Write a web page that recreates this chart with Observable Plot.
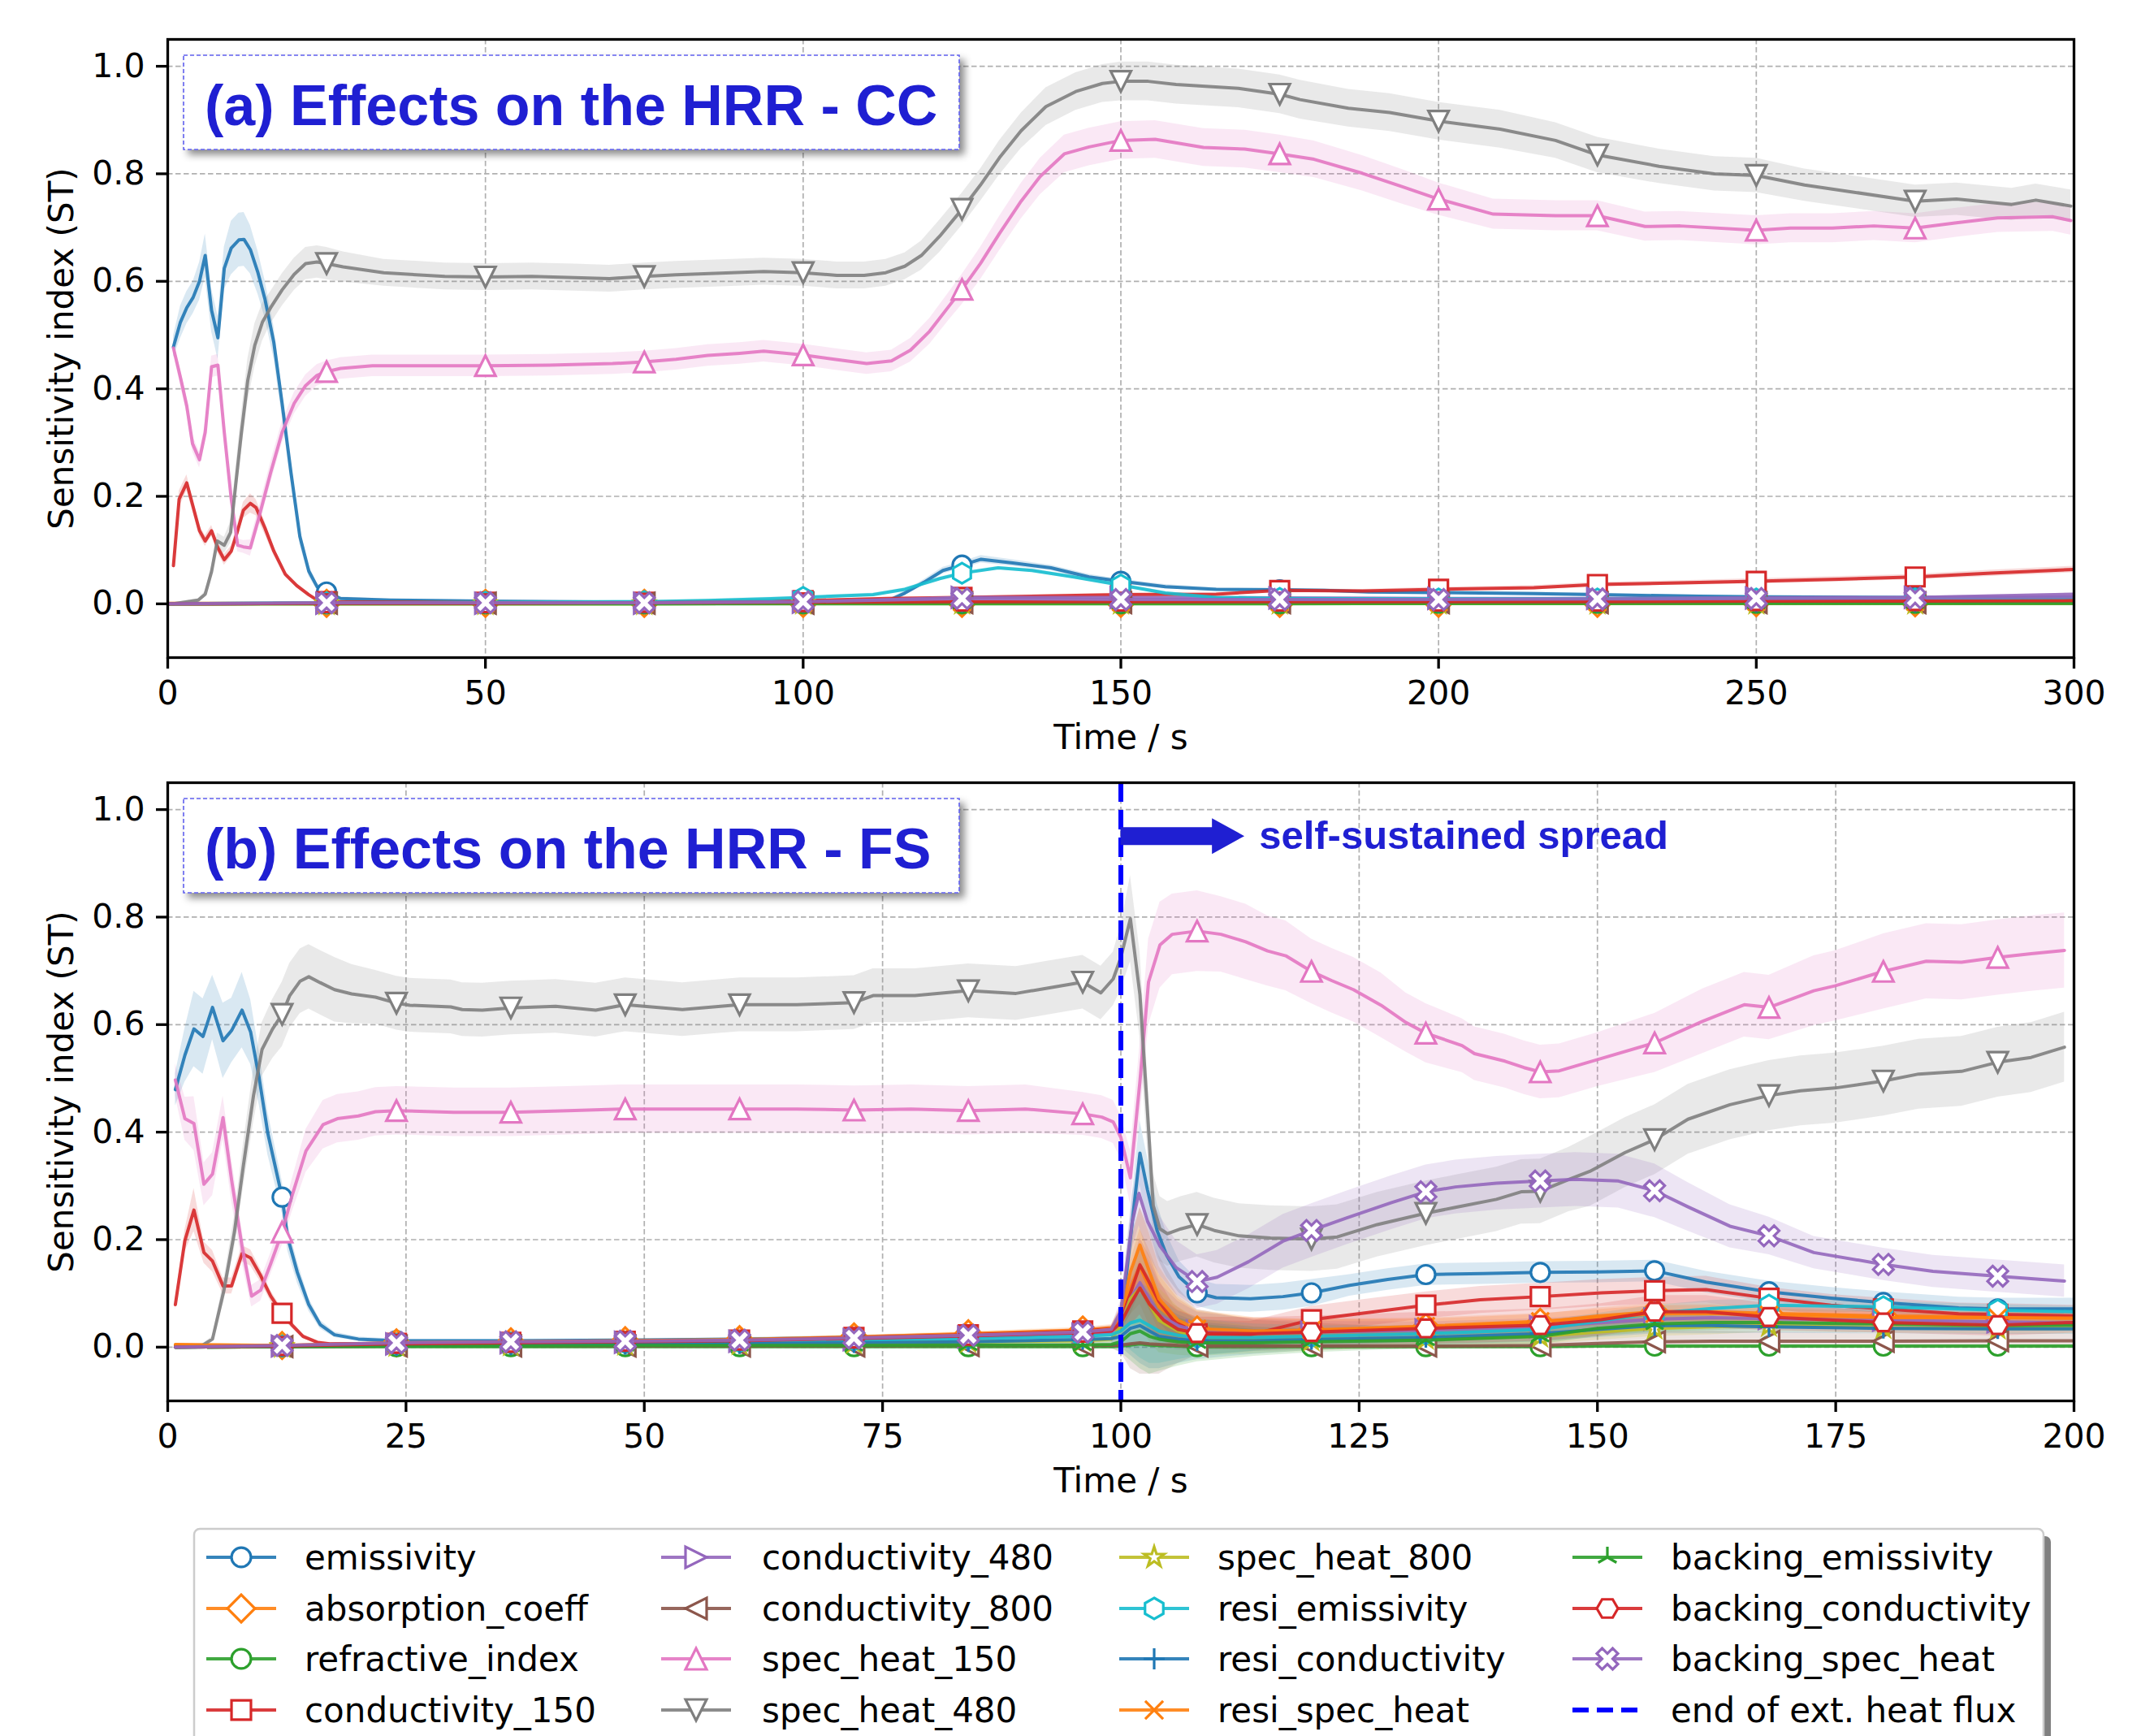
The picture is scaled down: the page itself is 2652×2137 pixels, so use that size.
<!DOCTYPE html>
<html><head><meta charset="utf-8">
<script src="https://cdn.jsdelivr.net/npm/d3@7"></script>
<script src="https://cdn.jsdelivr.net/npm/@observablehq/plot@0.6"></script>
<style>
html,body{margin:0;padding:0;background:#fff;}
body{width:2652px;height:2137px;overflow:hidden;position:relative;font-family:"DejaVu Sans",sans-serif;}
.panel{position:absolute;left:0;}
svg{overflow:visible;}
</style></head><body>
<div id="pb" class="panel" style="top:915px"></div>
<div id="pa" class="panel" style="top:0px"></div>
<script>
// ---------------- DATA ----------------
// Panel (a): CC, time 0..300 s
const TA = [0,25,50,75,100,125,150,175,200,225,250,275,300];
const MARK_A = [25,50,75,100,125,150,175,200,225,250,275];
// [t, value, halfwidth]
const A_emissivity = [[0.9,0.478,0.02],[2,0.524,0.03],[3,0.551,0.03],[4,0.570,0.03],[5,0.60,0.035],[5.9,0.648,0.04],[6.9,0.546,0.04],[7.9,0.495,0.04],[8.9,0.624,0.04],[10,0.662,0.05],[11.2,0.677,0.05],[12,0.678,0.05],[13,0.659,0.045],[14.2,0.616,0.04],[15.3,0.567,0.035],[16.7,0.486,0.03],[18,0.373,0.025],[19.4,0.244,0.02],[20.8,0.125,0.015],[22.2,0.061,0.01],[23.5,0.032,0.006],[25,0.022,0.004],[27.2,0.010,0.003],[35,0.007,0.002],[50,0.005,0.002],[75,0.003,0.002],[100,0.004,0.002],[110,0.005,0.002],[113.6,0.007,0.003],[116,0.02,0.004],[119,0.040,0.005],[122,0.062,0.006],[125,0.072,0.006],[128,0.083,0.007],[133,0.076,0.006],[139,0.067,0.005],[145,0.050,0.005],[150,0.042,0.004],[157,0.032,0.004],[165,0.027,0.003],[175,0.026,0.003],[182,0.025,0.003],[189,0.022,0.003],[200,0.021,0.003],[215,0.019,0.003],[225,0.017,0.003],[241,0.014,0.003],[250,0.013,0.003],[275,0.012,0.003],[300,0.012,0.003]];
const A_conductivity_150 = [[0.9,0.071,0.01],[1.8,0.195,0.015],[3,0.225,0.015],[3.9,0.185,0.012],[5,0.136,0.01],[5.9,0.117,0.01],[6.9,0.136,0.01],[7.9,0.104,0.01],[8.9,0.082,0.01],[10,0.098,0.01],[11,0.136,0.012],[11.9,0.174,0.015],[13,0.187,0.018],[13.9,0.179,0.015],[15.3,0.141,0.012],[16.7,0.098,0.008],[18.5,0.055,0.005],[20.3,0.034,0.004],[22.2,0.017,0.003],[23.5,0.007,0.002],[25,0.004,0.002],[50,0.003,0.002],[75,0.003,0.002],[100,0.006,0.002],[113,0.010,0.002],[125,0.012,0.003],[150,0.017,0.003],[165,0.018,0.003],[175,0.025,0.003],[188,0.024,0.003],[200,0.027,0.004],[215,0.030,0.004],[225,0.036,0.004],[238,0.039,0.004],[250,0.042,0.005],[263,0.046,0.005],[275,0.050,0.005],[287,0.057,0.006],[300,0.064,0.006]];
const A_spec_heat_150 = [[0.9,0.476,0.01],[2.1,0.416,0.015],[3,0.368,0.015],[3.9,0.298,0.015],[5,0.268,0.015],[5.9,0.319,0.015],[6.9,0.441,0.02],[7.9,0.444,0.02],[8.9,0.319,0.015],[10,0.195,0.015],[11,0.109,0.012],[11.9,0.106,0.012],[13,0.104,0.015],[14.4,0.163,0.018],[16.2,0.244,0.02],[18,0.319,0.02],[19.9,0.373,0.02],[21.7,0.406,0.02],[23.5,0.425,0.02],[25,0.432,0.02],[27.2,0.438,0.02],[32.2,0.443,0.02],[39,0.443,0.02],[50,0.443,0.02],[60,0.444,0.02],[70,0.447,0.02],[75,0.450,0.02],[80,0.455,0.02],[85,0.462,0.02],[90,0.466,0.02],[93.8,0.470,0.02],[100,0.463,0.02],[104.9,0.455,0.02],[110,0.447,0.02],[113.9,0.452,0.02],[116.9,0.472,0.022],[119.9,0.507,0.024],[122.9,0.553,0.026],[125,0.585,0.028],[127.9,0.633,0.03],[130.9,0.689,0.032],[134.3,0.749,0.033],[137.3,0.795,0.034],[141.1,0.837,0.035],[145,0.850,0.035],[150,0.862,0.035],[155.4,0.864,0.035],[163,0.849,0.035],[169.5,0.846,0.035],[175,0.837,0.035],[180.4,0.827,0.034],[188,0.801,0.033],[194.5,0.775,0.032],[200,0.753,0.03],[208.6,0.725,0.028],[218.4,0.722,0.028],[225,0.722,0.028],[232.5,0.702,0.027],[238,0.703,0.027],[250,0.695,0.027],[255.4,0.699,0.027],[262,0.699,0.027],[268.5,0.703,0.027],[275,0.699,0.027],[281.5,0.709,0.027],[288,0.718,0.027],[296.7,0.720,0.027],[299.5,0.713,0.027]];
const A_spec_heat_480 = [[0.9,0.0,0.002],[4.8,0.007,0.003],[5.9,0.018,0.005],[6.9,0.06,0.01],[7.8,0.117,0.015],[8.9,0.109,0.015],[9.9,0.133,0.02],[10.7,0.222,0.03],[11.6,0.319,0.035],[12.6,0.416,0.04],[13.7,0.481,0.04],[14.9,0.524,0.035],[16.2,0.551,0.03],[18,0.584,0.03],[19.9,0.613,0.03],[21.7,0.633,0.03],[23.5,0.636,0.03],[25,0.633,0.03],[27.6,0.627,0.028],[34,0.616,0.025],[43.6,0.609,0.025],[50,0.608,0.025],[57.3,0.609,0.025],[64,0.607,0.025],[69.5,0.605,0.025],[75,0.609,0.025],[80,0.612,0.025],[87,0.615,0.025],[93.8,0.618,0.025],[100,0.616,0.025],[105.3,0.611,0.025],[109.6,0.611,0.025],[113,0.616,0.025],[116,0.628,0.025],[118.6,0.648,0.027],[121.5,0.684,0.03],[125,0.734,0.03],[127.9,0.779,0.03],[130.9,0.830,0.032],[134.3,0.880,0.033],[138.2,0.925,0.035],[142.9,0.953,0.035],[147.1,0.968,0.035],[150,0.972,0.036],[154.3,0.972,0.036],[158.7,0.966,0.036],[168.5,0.959,0.036],[175,0.948,0.036],[178.2,0.938,0.036],[185.8,0.922,0.035],[192.3,0.914,0.035],[200,0.898,0.035],[209.7,0.883,0.035],[218.4,0.862,0.033],[225,0.835,0.033],[234.7,0.814,0.032],[243.4,0.800,0.032],[250,0.797,0.032],[257.6,0.779,0.03],[265.2,0.766,0.03],[275,0.749,0.03],[281.5,0.753,0.03],[290.2,0.743,0.03],[294,0.751,0.03],[299.5,0.740,0.03]];
const A_resi_emissivity = [[0,0],[25,0.002],[50,0.003],[75,0.004],[85,0.006],[95,0.0096],[100,0.012],[111,0.017],[116,0.027],[121.5,0.047],[125,0.057],[130.7,0.067],[136,0.062],[142.6,0.05],[150,0.035],[157,0.02],[165,0.012],[175,0.01],[200,0.009],[225,0.009],[250,0.009],[275,0.009],[300,0.01]];
// values at TA
const A_absorption_coeff   = [0.001,0.001,0.001,0.001,0.001,0.001,0.001,0.001,0.001,0.001,0.002,0.002,0.003];
const A_refractive_index   = [0,0,0,0,0,0,0,0,0.001,0.001,0.001,0.001,0.001];
const A_conductivity_480   = [0,0.001,0.001,0.001,0.003,0.012,0.012,0.011,0.010,0.010,0.011,0.012,0.018];
const A_conductivity_800   = [0,0.001,0.001,0.001,0.001,0.002,0.002,0.002,0.002,0.002,0.002,0.002,0.003];
const A_spec_heat_800      = [0,0,0,0,0.001,0.001,0.001,0.001,0.001,0.001,0.001,0.001,0.001];
const A_resi_conductivity  = [0,0.001,0.001,0.001,0.002,0.003,0.003,0.003,0.003,0.003,0.003,0.003,0.004];
const A_resi_spec_heat     = [0,0.001,0.001,0.001,0.002,0.003,0.003,0.003,0.003,0.003,0.004,0.004,0.005];
const A_backing_emissivity = [0,0,0,0,0.001,0.001,0.001,0.001,0.001,0.001,0.001,0.001,0.001];
const A_backing_conductivity = [0,0.001,0.001,0.002,0.003,0.004,0.004,0.004,0.004,0.004,0.005,0.005,0.006];
const A_backing_spec_heat  = [0,0.002,0.002,0.002,0.004,0.010,0.008,0.008,0.008,0.009,0.010,0.011,0.013];

// Panel (b): FS, time 0..200 s
const MARK_B = [12,24,36,48,60,72,84,96,108,120,132,144,156,168,180,192];
const TB = [0.8,12,24,36,48,60,72,84,96,99,100,101,102,103,104,106,108,114,120,132,144,150,156,162,168,180,192,200];
const B_emissivity = [[0.8,0.479,0.03],[1.8,0.543,0.05],[2.75,0.592,0.07],[3.7,0.578,0.07],[4.7,0.632,0.06],[5.8,0.570,0.07],[6.7,0.589,0.06],[7.8,0.627,0.07],[8.7,0.586,0.06],[9.6,0.500,0.05],[10.5,0.398,0.04],[12,0.279,0.03],[12.6,0.203,0.025],[13.6,0.139,0.02],[14.8,0.079,0.012],[16,0.042,0.008],[17.5,0.023,0.005],[20,0.015,0.004],[24,0.012,0.003],[36,0.012,0.003],[48,0.013,0.003],[60,0.015,0.003],[72,0.018,0.004],[84,0.022,0.004],[96,0.028,0.005],[99,0.032,0.006],[100,0.043,0.01],[101.2,0.234,0.05],[102,0.361,0.06],[102.8,0.292,0.06],[103.8,0.217,0.05],[104.8,0.171,0.04],[106.1,0.131,0.03],[108,0.101,0.025],[110,0.092,0.025],[113.6,0.090,0.025],[117,0.094,0.025],[120,0.101,0.025],[124,0.115,0.02],[128,0.126,0.02],[132,0.135,0.02],[138,0.137,0.02],[144,0.139,0.02],[150,0.140,0.02],[156,0.142,0.02],[161.4,0.121,0.02],[168,0.103,0.02],[174.5,0.091,0.02],[180,0.083,0.02],[187.9,0.073,0.02],[192,0.071,0.02],[200,0.071,0.02]];
const B_conductivity_150 = [[0.8,0.079,0.01],[1.8,0.198,0.02],[2.75,0.255,0.04],[3.8,0.176,0.02],[4.7,0.160,0.02],[5.8,0.114,0.015],[6.7,0.114,0.015],[7.8,0.174,0.015],[8.7,0.166,0.015],[9.75,0.133,0.012],[10.8,0.095,0.01],[12,0.063,0.008],[13,0.042,0.006],[14.2,0.020,0.004],[15.7,0.009,0.003],[17,0.006,0.002],[24,0.007,0.002],[36,0.009,0.002],[48,0.011,0.002],[60,0.013,0.003],[72,0.018,0.003],[84,0.023,0.004],[96,0.030,0.005],[99,0.034,0.006],[100,0.05,0.02],[101,0.10,0.04],[102,0.153,0.05],[103,0.12,0.05],[104,0.085,0.04],[105.5,0.05,0.03],[108,0.025,0.025],[113.6,0.023,0.025],[120,0.051,0.025],[126.6,0.066,0.025],[132,0.078,0.025],[137.7,0.088,0.025],[144,0.094,0.025],[150.4,0.101,0.025],[156,0.105,0.025],[161.4,0.107,0.025],[168,0.091,0.02],[174.5,0.078,0.02],[180,0.071,0.02],[187.9,0.062,0.02],[192,0.061,0.02],[200,0.058,0.02]];
const B_spec_heat_150 = [[0.8,0.497,0.03],[1.8,0.425,0.04],[2.75,0.416,0.05],[3.8,0.303,0.04],[4.7,0.322,0.04],[5.8,0.427,0.04],[6.7,0.311,0.04],[7.8,0.187,0.03],[8.8,0.095,0.02],[9.75,0.106,0.02],[10.8,0.155,0.02],[12,0.214,0.025],[13,0.279,0.03],[14.5,0.365,0.04],[16.3,0.414,0.045],[17.8,0.425,0.045],[20,0.430,0.045],[21.8,0.438,0.045],[24,0.440,0.045],[30,0.437,0.045],[36,0.437,0.045],[42,0.440,0.045],[48,0.443,0.045],[54,0.443,0.045],[60,0.443,0.045],[66,0.443,0.045],[72,0.441,0.045],[78,0.443,0.045],[84,0.440,0.045],[90,0.443,0.045],[96,0.434,0.04],[98,0.428,0.04],[99.2,0.419,0.04],[100,0.390,0.04],[101,0.315,0.05],[102,0.494,0.07],[102.9,0.679,0.08],[104.1,0.748,0.08],[105.4,0.768,0.075],[108,0.774,0.075],[110.5,0.768,0.07],[113.1,0.754,0.07],[115.4,0.737,0.065],[117.3,0.728,0.065],[120,0.699,0.06],[122.1,0.682,0.06],[124.4,0.665,0.06],[127.3,0.636,0.06],[129.9,0.604,0.055],[132,0.584,0.055],[135.8,0.561,0.05],[137.1,0.546,0.05],[140.3,0.532,0.05],[142.3,0.520,0.05],[144,0.512,0.05],[146,0.514,0.05],[150,0.535,0.05],[156,0.566,0.055],[161,0.606,0.06],[165.4,0.637,0.06],[168,0.632,0.06],[172.7,0.663,0.065],[174.9,0.672,0.065],[180,0.699,0.07],[184.5,0.718,0.07],[188.2,0.716,0.07],[192,0.725,0.07],[195.5,0.732,0.07],[199,0.738,0.07]];
const B_spec_heat_480 = [[0.8,0.0,0.002],[3.7,0.004,0.003],[4.7,0.015,0.005],[5.9,0.106,0.02],[7,0.214,0.03],[7.9,0.333,0.04],[9,0.468,0.05],[9.9,0.554,0.05],[11,0.592,0.055],[12,0.619,0.06],[12.8,0.654,0.06],[13.9,0.681,0.06],[14.8,0.689,0.06],[16,0.678,0.06],[17.5,0.665,0.06],[19.3,0.657,0.055],[21.8,0.651,0.05],[24,0.640,0.05],[25.4,0.636,0.05],[29.7,0.633,0.05],[30.9,0.628,0.05],[33,0.627,0.05],[36,0.631,0.05],[40.7,0.634,0.05],[44.9,0.627,0.05],[48,0.637,0.05],[54,0.628,0.05],[60,0.637,0.05],[66,0.637,0.05],[72,0.641,0.05],[74,0.654,0.05],[78.4,0.654,0.05],[84,0.663,0.05],[89,0.658,0.05],[92,0.667,0.05],[96,0.679,0.05],[97.9,0.659,0.05],[99.2,0.685,0.05],[100,0.725,0.06],[101,0.797,0.08],[102,0.656,0.08],[102.8,0.436,0.07],[103.4,0.263,0.06],[104.1,0.220,0.06],[104.9,0.211,0.06],[106.3,0.220,0.06],[108,0.228,0.06],[109.8,0.217,0.06],[112.4,0.207,0.06],[115.7,0.203,0.06],[120,0.201,0.06],[122.7,0.205,0.06],[126.9,0.228,0.06],[132,0.249,0.06],[135.1,0.260,0.06],[139.4,0.275,0.06],[142,0.289,0.06],[144,0.290,0.06],[147,0.312,0.06],[149.2,0.327,0.065],[152.9,0.362,0.065],[156,0.386,0.065],[159.5,0.424,0.065],[163.9,0.451,0.065],[168,0.468,0.065],[171.3,0.477,0.065],[174.9,0.482,0.065],[180,0.495,0.065],[183.7,0.508,0.065],[188.2,0.513,0.065],[192,0.530,0.065],[195.5,0.539,0.065],[199,0.558,0.065]];
const B_backing_spec_heat = [[0.8,0.0,0.002],[12,0.003,0.002],[24,0.008,0.003],[36,0.010,0.003],[48,0.011,0.003],[60,0.013,0.003],[72,0.017,0.003],[84,0.022,0.004],[96,0.028,0.005],[99,0.033,0.006],[100,0.067,0.02],[101.2,0.234,0.05],[101.9,0.286,0.06],[102.8,0.234,0.06],[104.1,0.188,0.055],[105.8,0.148,0.05],[108,0.122,0.05],[110.1,0.130,0.05],[113.4,0.159,0.05],[117,0.197,0.05],[120,0.217,0.05],[123.6,0.240,0.05],[128.4,0.269,0.05],[132,0.289,0.05],[135.1,0.298,0.05],[139.4,0.305,0.05],[144,0.309,0.05],[147.7,0.312,0.05],[152.2,0.309,0.05],[156,0.291,0.05],[159.5,0.261,0.045],[163.9,0.225,0.04],[168,0.207,0.035],[172.7,0.176,0.03],[180,0.154,0.03],[185.2,0.141,0.03],[192,0.132,0.03],[199,0.123,0.03]];
const B_backing_conductivity = [[0.8,0,0.002],[12,0.002,0.002],[24,0.006,0.003],[36,0.008,0.003],[48,0.010,0.003],[60,0.012,0.003],[72,0.016,0.003],[84,0.021,0.004],[96,0.027,0.005],[99,0.03,0.006],[100,0.045,0.02],[101,0.08,0.04],[102,0.11,0.05],[103,0.08,0.05],[104.5,0.05,0.04],[106,0.033,0.035],[108,0.026,0.03],[114,0.025,0.03],[120,0.028,0.03],[132,0.035,0.03],[144,0.041,0.03],[150.4,0.051,0.03],[156,0.066,0.03],[161.4,0.066,0.03],[168,0.056,0.025],[180,0.046,0.02],[192,0.041,0.02],[200,0.046,0.02]];
// values at TB
const B_absorption_coeff   = [0.005,0.003,0.008,0.010,0.012,0.014,0.019,0.025,0.032,0.036,0.055,0.11,0.15,0.11,0.075,0.045,0.032,0.028,0.031,0.037,0.046,0.058,0.066,0.066,0.063,0.058,0.056,0.054];
const B_refractive_index   = [0,0.001,0.001,0.001,0.001,0.001,0.001,0.001,0.001,0.001,0.002,0.004,0.006,0.004,0.003,0.002,0.001,0.001,0.001,0.001,0.001,0.002,0.002,0.002,0.002,0.002,0.002,0.002];
const B_conductivity_480   = [0,0.002,0.006,0.008,0.009,0.011,0.014,0.019,0.024,0.028,0.045,0.09,0.12,0.09,0.06,0.04,0.03,0.027,0.028,0.032,0.038,0.045,0.052,0.055,0.053,0.050,0.047,0.045];
const B_conductivity_800   = [0,0.001,0.002,0.002,0.002,0.002,0.002,0.003,0.003,0.003,0.004,0.006,0.008,0.006,0.005,0.003,0.002,0.002,0.002,0.002,0.003,0.007,0.010,0.011,0.011,0.011,0.012,0.012];
const B_conductivity_800_lo = [0,-0.001,-0.001,-0.001,-0.001,-0.001,-0.001,-0.001,-0.002,-0.003,-0.01,-0.04,-0.05,-0.05,-0.05,-0.03,-0.015,-0.008,-0.005,-0.004,-0.003,-0.002,-0.002,-0.002,-0.002,-0.002,-0.002,-0.002];
const B_conductivity_800_hi = [0.002,0.003,0.004,0.004,0.004,0.004,0.005,0.006,0.008,0.01,0.05,0.2,0.26,0.22,0.17,0.11,0.07,0.05,0.045,0.035,0.03,0.03,0.03,0.03,0.028,0.025,0.025,0.025];
const B_spec_heat_800      = [0,0.001,0.003,0.004,0.005,0.006,0.008,0.010,0.012,0.015,0.04,0.09,0.11,0.08,0.05,0.03,0.018,0.013,0.013,0.016,0.020,0.028,0.035,0.038,0.040,0.036,0.035,0.035];
const B_resi_emissivity    = [0,0.002,0.005,0.007,0.008,0.010,0.013,0.016,0.020,0.023,0.03,0.045,0.05,0.04,0.03,0.022,0.018,0.018,0.020,0.025,0.033,0.048,0.063,0.072,0.078,0.075,0.069,0.066];
const B_resi_conductivity  = [0,0.001,0.003,0.004,0.005,0.006,0.008,0.010,0.014,0.016,0.02,0.035,0.04,0.03,0.02,0.015,0.012,0.012,0.014,0.018,0.025,0.033,0.040,0.040,0.038,0.035,0.034,0.034];
const B_resi_spec_heat     = [0.004,0.003,0.007,0.009,0.011,0.013,0.017,0.022,0.028,0.033,0.06,0.14,0.19,0.14,0.09,0.05,0.034,0.03,0.032,0.039,0.048,0.055,0.062,0.063,0.060,0.055,0.055,0.054];
const B_backing_emissivity = [0,0.001,0.002,0.002,0.003,0.003,0.003,0.004,0.004,0.005,0.01,0.025,0.03,0.02,0.015,0.010,0.008,0.008,0.010,0.013,0.020,0.035,0.043,0.046,0.046,0.043,0.040,0.041];
const B_MINOR_HW = [0.002,0.002,0.003,0.003,0.003,0.003,0.003,0.004,0.005,0.006,0.02,0.05,0.07,0.07,0.06,0.045,0.035,0.025,0.02,0.015,0.015,0.015,0.015,0.015,0.012,0.01,0.01,0.01];

// annotation (panel b): end of external heat flux and arrow
const HEATFLUX_END = [100];
const ARROW = {from: 100, headBase: 109.6, to: 113, at: 0.95};
const ARROW_LABEL = [{t: 114.5, v: 0.95, label: "self-sustained spread"}];

const TICKS_Y = [0,0.2,0.4,0.6,0.8,1.0];
const TICKS_XA = [0,50,100,150,200,250,300];
const TICKS_XB = [0,25,50,75,100,125,150,175,200];

// ---------------- STYLE ----------------
const SERIES = [
 {key:"emissivity", color:"#1f77b4", sym:"circle"},
 {key:"absorption_coeff", color:"#ff7f0e", sym:"diamond"},
 {key:"refractive_index", color:"#2ca02c", sym:"circle"},
 {key:"conductivity_150", color:"#d62728", sym:"square"},
 {key:"conductivity_480", color:"#9467bd", sym:"triRight"},
 {key:"conductivity_800", color:"#8c564b", sym:"triLeft"},
 {key:"spec_heat_150", color:"#e377c2", sym:"triUp"},
 {key:"spec_heat_480", color:"#7f7f7f", sym:"triDown"},
 {key:"spec_heat_800", color:"#bcbd22", sym:"star"},
 {key:"resi_emissivity", color:"#17becf", sym:"hexV"},
 {key:"resi_conductivity", color:"#1f77b4", sym:"plus", hollow:true},
 {key:"resi_spec_heat", color:"#ff7f0e", sym:"cross", hollow:true},
 {key:"backing_emissivity", color:"#2ca02c", sym:"tri", hollow:true},
 {key:"backing_conductivity", color:"#d62728", sym:"hexH"},
 {key:"backing_spec_heat", color:"#9467bd", sym:"xFilled"}
];
const TITLE_BLUE = "#1f1fd2";
const LINE_W = 4, MARK_R = 12.5, MARK_W = 3.2;

function sym(fn){ return {draw(ctx, size){ const R = Math.sqrt(size/Math.PI); fn(ctx, R); }}; }
function poly(c, pts){ c.moveTo(pts[0][0], pts[0][1]); for (let i=1;i<pts.length;i++) c.lineTo(pts[i][0], pts[i][1]); c.closePath(); }
function regular(n, R, a0){ const p=[]; for(let k=0;k<n;k++){const a=a0+k*2*Math.PI/n; p.push([R*Math.cos(a), R*Math.sin(a)]);} return p; }
const SYM = {
  circle: sym((c,R)=>{ const r=R*0.92; c.moveTo(r,0); c.arc(0,0,r,0,2*Math.PI); }),
  diamond: sym((c,R)=>{ const d=R*1.3; poly(c,[[0,-d],[d,0],[0,d],[-d,0]]); }),
  square: sym((c,R)=>{ const r=R*0.92; poly(c,[[-r,-r],[r,-r],[r,r],[-r,r]]); }),
  triRight: sym((c,R)=>poly(c,[[R,0],[-R,-R],[-R,R]])),
  triLeft: sym((c,R)=>poly(c,[[-R,0],[R,-R],[R,R]])),
  triUp: sym((c,R)=>poly(c,[[0,-R],[R,R],[-R,R]])),
  triDown: sym((c,R)=>poly(c,[[0,R],[R,-R],[-R,-R]])),
  star: sym((c,R)=>{ const p=[]; for(let k=0;k<10;k++){ const a=-Math.PI/2+k*Math.PI/5; const r=k%2?R*0.382:R; p.push([r*Math.cos(a), r*Math.sin(a)]);} poly(c,p); }),
  hexV: sym((c,R)=>poly(c, regular(6,R,-Math.PI/2))),
  hexH: sym((c,R)=>poly(c, regular(6,R,0))),
  plus: sym((c,R)=>{ c.moveTo(-R,0); c.lineTo(R,0); c.moveTo(0,-R); c.lineTo(0,R); }),
  cross: sym((c,R)=>{ const d=R*0.85; c.moveTo(-d,-d); c.lineTo(d,d); c.moveTo(-d,d); c.lineTo(d,-d); }),
  tri: sym((c,R)=>{ c.moveTo(0,0); c.lineTo(0,-R); c.moveTo(0,0); c.lineTo(-0.866*R,0.5*R); c.moveTo(0,0); c.lineTo(0.866*R,0.5*R); }),
  xFilled: sym((c,R)=>{ const h=R/2; poly(c, [[-1,-2],[0,-1],[1,-2],[2,-1],[1,0],[2,1],[1,2],[0,1],[-1,2],[-2,1],[-1,0],[-2,-1]].map(([a,b])=>[a*h,b*h])); })
};

// ---------------- BUILD ROWS ----------------
function fromTriples(arr, hw){ return arr.map(p=>{ const h = p.length>2 ? p[2] : hw; return {t:p[0], v:p[1], lo:p[1]-h, hi:p[1]+h}; }); }
function fromAligned(times, vals, hw){ return times.map((t,i)=>{ const h = Array.isArray(hw)? hw[i] : hw; return {t, v:vals[i], lo:vals[i]-h, hi:vals[i]+h}; }); }
function fromLoHi(times, vals, lo, hi){ return times.map((t,i)=>({t, v:vals[i], lo:lo[i], hi:hi[i]})); }

const A_ROWS = {
  emissivity: fromTriples(A_emissivity, 0.003),
  absorption_coeff: fromAligned(TA, A_absorption_coeff, 0.002),
  refractive_index: fromAligned(TA, A_refractive_index, 0.001),
  conductivity_150: fromTriples(A_conductivity_150, 0.003),
  conductivity_480: fromAligned(TA, A_conductivity_480, 0.002),
  conductivity_800: fromAligned(TA, A_conductivity_800, 0.001),
  spec_heat_150: fromTriples(A_spec_heat_150, 0.02),
  spec_heat_480: fromTriples(A_spec_heat_480, 0.03),
  spec_heat_800: fromAligned(TA, A_spec_heat_800, 0.001),
  resi_emissivity: fromTriples(A_resi_emissivity, 0.003),
  resi_conductivity: fromAligned(TA, A_resi_conductivity, 0.001),
  resi_spec_heat: fromAligned(TA, A_resi_spec_heat, 0.002),
  backing_emissivity: fromAligned(TA, A_backing_emissivity, 0.001),
  backing_conductivity: fromAligned(TA, A_backing_conductivity, 0.002),
  backing_spec_heat: fromAligned(TA, A_backing_spec_heat, 0.002)
};
const B_ROWS = {
  emissivity: fromTriples(B_emissivity, 0.003),
  absorption_coeff: fromAligned(TB, B_absorption_coeff, B_MINOR_HW),
  refractive_index: fromAligned(TB, B_refractive_index, 0.002),
  conductivity_150: fromTriples(B_conductivity_150, 0.003),
  conductivity_480: fromAligned(TB, B_conductivity_480, B_MINOR_HW),
  conductivity_800: fromLoHi(TB, B_conductivity_800, B_conductivity_800_lo, B_conductivity_800_hi),
  spec_heat_150: fromTriples(B_spec_heat_150, 0.04),
  spec_heat_480: fromTriples(B_spec_heat_480, 0.05),
  spec_heat_800: fromAligned(TB, B_spec_heat_800, B_MINOR_HW),
  resi_emissivity: fromAligned(TB, B_resi_emissivity, B_MINOR_HW),
  resi_conductivity: fromAligned(TB, B_resi_conductivity, B_MINOR_HW),
  resi_spec_heat: fromAligned(TB, B_resi_spec_heat, B_MINOR_HW),
  backing_emissivity: fromAligned(TB, B_backing_emissivity, B_MINOR_HW),
  backing_conductivity: fromTriples(B_backing_conductivity, 0.003),
  backing_spec_heat: fromTriples(B_backing_spec_heat, 0.003)
};

// ---------------- PANELS ----------------
const GRID = {stroke:"#b0b0b0", strokeOpacity:1, strokeWidth:1.7, strokeDasharray:"6.5,3.5"};
const FONT = "DejaVu Sans";

function makePanel(rowsByKey, markTimes, xDomain, xTicks, extraAbove){
  const mset = new Set(markTimes);
  const marks = [Plot.gridX(xTicks, GRID), Plot.gridY(TICKS_Y, GRID)];
  for (const s of SERIES) {
    marks.push(Plot.areaY(rowsByKey[s.key], {x:"t", y1:"lo", y2:"hi", fill:s.color, fillOpacity:0.17, curve:"linear", clip:true}));
  }
  for (const s of SERIES) {
    const rows = rowsByKey[s.key];
    marks.push(Plot.line(rows, {x:"t", y:"v", stroke:s.color, strokeWidth:LINE_W, strokeOpacity:0.9, curve:"linear", clip:true}));
    marks.push(Plot.dot(rows.filter(r=>mset.has(r.t)), {x:"t", y:"v", symbol:SYM[s.sym], r:MARK_R,
      fill: s.hollow ? "none" : "white", stroke:s.color, strokeWidth:MARK_W, strokeLinejoin:"miter"}));
  }
  marks.push(...extraAbove);
  marks.push(Plot.frame({stroke:"black", strokeWidth:3.3}));
  marks.push(Plot.axisX(xTicks, {tickSize:14, tickPadding:14, strokeWidth:3.3, label:null, fontSize:41, tickFormat:d3.format("d")}));
  marks.push(Plot.axisY(TICKS_Y, {tickSize:14, tickPadding:14, strokeWidth:3.3, label:null, fontSize:41, tickFormat:d3.format(".1f")}));
  marks.push(Plot.text(["Time / s"], {frameAnchor:"bottom", dy:99, text:d=>d, fontSize:42, textAnchor:"middle", lineAnchor:"middle"}));
  marks.push(Plot.text(["Sensitivity index (ST)"], {frameAnchor:"left", dx:-130, rotate:-90, text:d=>d, fontSize:42, textAnchor:"middle", lineAnchor:"middle"}));
  return Plot.plot({
    width:2652, height:915, marginTop:48, marginBottom:106, marginLeft:206, marginRight:99,
    x:{domain:xDomain}, y:{domain:[-0.1,1.05]},
    style:{fontFamily:FONT, fontSize:"41px", color:"black", background:"transparent", overflow:"visible"},
    marks
  });
}

function addTitle(svg, text, id){
  const s = d3.select(svg);
  const defs = s.append("defs");
  const f = defs.append("filter").attr("id", id).attr("x","-5%").attr("y","-10%").attr("width","115%").attr("height","140%");
  f.append("feDropShadow").attr("dx",6).attr("dy",6).attr("stdDeviation",5).attr("flood-color","#000").attr("flood-opacity",0.45);
  s.append("rect").attr("x",226).attr("y",68).attr("width",955).attr("height",116)
    .attr("fill","white").attr("stroke","#6060ee").attr("stroke-width",1.6).attr("stroke-dasharray","5,3").attr("filter",`url(#${id})`);
  s.append("text").attr("x",252).attr("y",154).attr("text-anchor","start").attr("font-family","Liberation Sans, Arial, sans-serif")
    .attr("font-weight","bold").attr("font-size",70).attr("fill",TITLE_BLUE).text(text);
}

const svgA = makePanel(A_ROWS, MARK_A, [0,300], TICKS_XA, []);
document.getElementById("pa").append(svgA);
addTitle(svgA, "(a) Effects on the HRR - CC", "shA");

const svgB = makePanel(B_ROWS, MARK_B, [0,200], TICKS_XB, [
  Plot.ruleX(HEATFLUX_END, {stroke:"#0000ff", strokeWidth:6, strokeDasharray:"24,10"}),
  Plot.text(ARROW_LABEL, {x:"t", y:"v", text:"label", textAnchor:"start", fontSize:49, fontWeight:"bold",
    fontFamily:"Liberation Sans, Arial, sans-serif", fill:TITLE_BLUE})
]);
document.getElementById("pb").append(svgB);
addTitle(svgB, "(b) Effects on the HRR - FS", "shB");
{
  const sx = svgB.scale("x"), sy = svgB.scale("y");
  const x1 = sx.apply(ARROW.from), xh = sx.apply(ARROW.headBase), x2 = sx.apply(ARROW.to), yc = sy.apply(ARROW.at);
  const pts = [[x1,yc-11],[xh,yc-11],[xh,yc-22],[x2,yc],[xh,yc+22],[xh,yc+11],[x1,yc+11]];
  d3.select(svgB).append("polygon").attr("points", pts.map(p=>p.join(",")).join(" ")).attr("fill", TITLE_BLUE);
}

// ---------------- LEGEND ----------------
{
  const L = d3.create("svg").attr("width",2652).attr("height",277)
    .style("position","absolute").style("left","0px").style("top","1860px").style("overflow","hidden");
  L.append("rect").attr("x",248).attr("y",31).attr("width",2277).attr("height",320).attr("rx",7).attr("fill","#808080");
  L.append("rect").attr("x",239).attr("y",22).attr("width",2277).attr("height",320).attr("rx",7)
    .attr("fill","white").attr("stroke","#cccccc").attr("stroke-width",2.5);
  const colMarker = [297, 857, 1421, 1979];
  const colText = [375, 938, 1499, 2057];
  const rowY = [57, 120, 182, 245];
  const entries = SERIES.map(s=>({...s, label:s.key})).concat([{label:"end of ext. heat flux", dashed:true}]);
  entries.forEach((e, i)=>{
    const col = Math.floor(i/4), row = i%4;
    const mx = colMarker[col], y = rowY[row];
    if (e.dashed) {
      L.append("line").attr("x1",mx-43).attr("x2",mx+43).attr("y1",y).attr("y2",y)
        .attr("stroke","#0000ff").attr("stroke-width",6).attr("stroke-dasharray","20,10");
    } else {
      L.append("line").attr("x1",mx-43).attr("x2",mx+43).attr("y1",y).attr("y2",y)
        .attr("stroke",e.color).attr("stroke-width",LINE_W).attr("stroke-opacity",0.9);
      const p = d3.path(); SYM[e.sym].draw(p, Math.PI*13*13);
      L.append("path").attr("d", p.toString()).attr("transform",`translate(${mx},${y})`)
        .attr("fill", e.hollow ? "none" : "white").attr("stroke", e.color).attr("stroke-width",MARK_W).attr("stroke-linejoin","miter");
    }
    L.append("text").attr("x", colText[col]).attr("y", y).attr("dy","0.36em")
      .attr("font-family", FONT).attr("font-size",42).attr("fill","black").text(e.label);
  });
  document.body.append(L.node());
}
</script>
</body></html>
